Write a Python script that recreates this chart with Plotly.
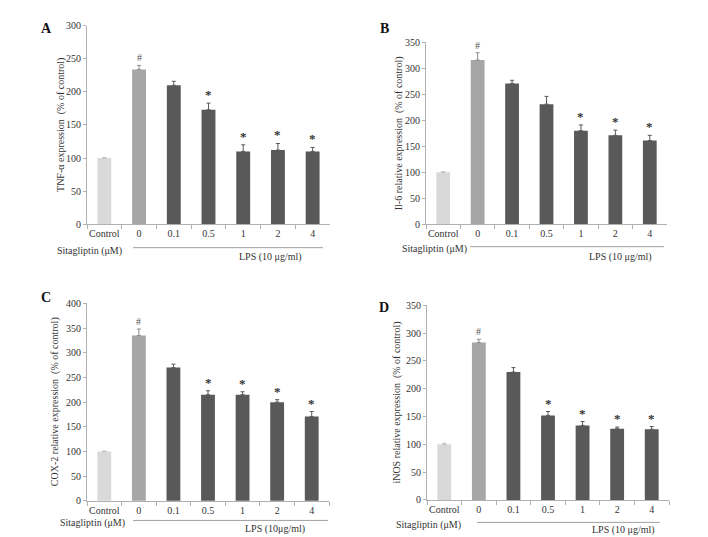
import plotly.graph_objects as go

W, H = 708, 537

categories = ["Control", "0", "0.1", "0.5", "1", "2", "4"]

tnf_values = [100, 234, 210, 173, 110, 112, 110]
tnf_errors = [1, 6, 6, 10, 10, 10, 6]
tnf_marks = ["", "#", "", "*", "*", "*", "*"]

il6_values = [100, 316, 271, 231, 180, 171, 161]
il6_errors = [1, 14, 6, 15, 11, 10, 10]
il6_marks = ["", "#", "", "", "*", "*", "*"]

cox2_values = [100, 335, 270, 215, 215, 200, 171]
cox2_errors = [1, 13, 7, 8, 6, 5, 10]
cox2_marks = ["", "#", "", "*", "*", "*", "*"]

inos_values = [100, 283, 230, 152, 134, 128, 127]
inos_errors = [2, 6, 8, 7, 7, 3, 5]
inos_marks = ["", "#", "", "*", "*", "*", "*"]

y_titles = ["TNF-\u03b1 expression  (% of control)",
            "Il-6 relative expression  (% of control)",
            "COX-2 relative expression  (% of control)",
            "iNOS relative expression  (% of control)"]
y_ranges = [300, 350, 400, 350]
y_dticks = [50, 50, 50, 50]
panel_letters = ["A", "B", "C", "D"]
lps_labels = ["LPS (10 \u03bcg/ml)", "LPS (10 \u03bcg/ml)", "LPS (10\u03bcg/ml)", "LPS (10 \u03bcg/ml)"]
sita_label = "Sitagliptin (\u03bcM)"

colors = ["#d9d9d9", "#a6a6a6"] + ["#595959"] * 5
err_colors = ["#bdbdbd", "#8c8c8c"] + ["#595959"] * 5

def px(x):
    return x / W

def py(y):
    return 1 - y / H

# layout geometry per panel (pixels)
geo = [
    dict(x0=79, x1=322, yb=215, yt=12, tx=53, let=(38, 15), sita=(47, 242),
         line=(125, 315, 239), lps=(262, 249)),
    dict(x0=418, x1=659, yb=215, yt=29, tx=391, let=(376, 15), sita=(392, 240),
         line=(462, 656, 238), lps=(612, 249)),
    dict(x0=79, x1=321, yb=498, yt=296, tx=47, let=(38, 290), sita=(50, 521),
         line=(125, 320, 518), lps=(267, 527)),
    dict(x0=419, x1=661, yb=497, yt=298, tx=389, let=(376, 300), sita=(386, 523),
         line=(469, 652, 520), lps=(615, 528)),
]

datasets = [
    (tnf_values, tnf_errors, tnf_marks),
    (il6_values, il6_errors, il6_marks),
    (cox2_values, cox2_errors, cox2_marks),
    (inos_values, inos_errors, inos_marks),
]

FONT = "Liberation Serif, Times New Roman, serif"
TXT = "#333333"
AX = "#b0b0b0"

fig = go.Figure()
annotations = []
shapes = []
layout = {}

for p, ((vals, errs, marks), g) in enumerate(zip(datasets, geo)):
    n = "" if p == 0 else str(p + 1)
    xa, ya = "x" + n, "y" + n
    for i in range(len(categories)):
        fig.add_trace(go.Bar(
            x=[categories[i]], y=[vals[i]], xaxis=xa, yaxis=ya,
            marker=dict(color=colors[i], line=dict(width=0)),
            width=0.4,
            error_y=dict(type="data", array=[errs[i]], arrayminus=[0],
                         symmetric=False, color=err_colors[i],
                         thickness=1, width=2),
            showlegend=False, hoverinfo="skip"))
        if marks[i]:
            is_hash = marks[i] == "#"
            annotations.append(dict(
                x=i, y=vals[i] + errs[i], xref=xa, yref=ya,
                text=marks[i] if is_hash else "<b>*</b>",
                showarrow=False, yanchor="bottom", yshift=0 if is_hash else -1,
                font=dict(family=FONT, size=10 if is_hash else 13,
                          color="#555555" if is_hash else "#333333")))
    layout["xaxis" + n] = dict(
        domain=[px(g["x0"]), px(g["x1"])], anchor=ya,
        type="category", categoryorder="array", categoryarray=categories,
        range=[-0.5, 6.5], showline=True, linecolor=AX, linewidth=1,
        ticks="outside", ticklen=4, tickcolor=AX, tickson="boundaries",
        tickangle=0, showgrid=False, zeroline=False,
        tickfont=dict(family=FONT, size=10, color=TXT))
    layout["yaxis" + n] = dict(
        domain=[py(g["yb"]), py(g["yt"])], anchor=xa,
        range=[0, y_ranges[p]], dtick=y_dticks[p], tick0=0,
        showline=True, linecolor=AX, linewidth=1,
        ticks="outside", ticklen=3, tickcolor=AX,
        showgrid=False, zeroline=False,
        tickfont=dict(family=FONT, size=10, color=TXT))
    annotations.append(dict(
        x=px(g["tx"]), y=(py(g["yb"]) + py(g["yt"])) / 2, xref="paper", yref="paper",
        text=y_titles[p], textangle=-90, showarrow=False,
        xanchor="center", yanchor="middle",
        font=dict(family=FONT, size=10, color=TXT)))
    annotations.append(dict(
        x=px(g["let"][0]), y=py(g["let"][1]), xref="paper", yref="paper",
        text="<b>" + panel_letters[p] + "</b>", showarrow=False,
        xanchor="center", yanchor="middle",
        font=dict(family=FONT, size=14, color="#111111")))
    annotations.append(dict(
        x=px(g["sita"][0]), y=py(g["sita"][1]), xref="paper", yref="paper",
        text=sita_label, showarrow=False, xanchor="left", yanchor="middle",
        font=dict(family=FONT, size=10, color=TXT)))
    annotations.append(dict(
        x=px(g["lps"][0]), y=py(g["lps"][1]), xref="paper", yref="paper",
        text=lps_labels[p], showarrow=False, xanchor="center", yanchor="middle",
        font=dict(family=FONT, size=10, color=TXT)))
    lx0, lx1, ly = g["line"]
    shapes.append(dict(type="line", xref="paper", yref="paper",
                       x0=px(lx0), x1=px(lx1), y0=py(ly), y1=py(ly),
                       line=dict(color="#a0a0a0", width=1)))

fig.update_layout(
    width=W, height=H, margin=dict(l=0, r=0, t=0, b=0),
    paper_bgcolor="white", plot_bgcolor="white",
    barmode="overlay", annotations=annotations, shapes=shapes,
    font=dict(family=FONT, size=10, color=TXT),
    **layout)

fig.write_html("out.html")
